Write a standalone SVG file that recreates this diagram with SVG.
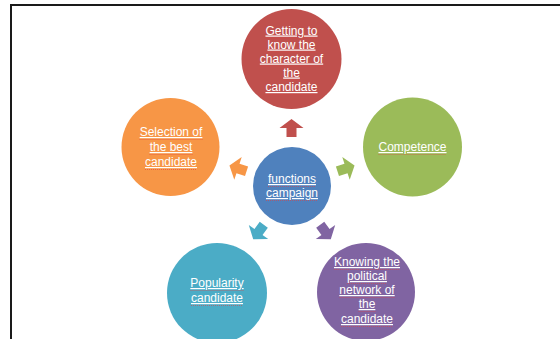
<svg xmlns="http://www.w3.org/2000/svg" width="560" height="339" viewBox="0 0 560 339">
<style>
.t{font-family:"Liberation Sans",Arial,sans-serif;font-size:12px;fill:#fff;text-anchor:middle;text-decoration:underline;}
.sq{stroke:#e04040;stroke-width:0.7;stroke-dasharray:1 1;fill:none;opacity:0.85;}
.frame{stroke:#1a1a1a;stroke-width:2;fill:none;}
</style>
<defs>
<path id="arr" d="M-9,-5 H0 V-12 L9,0 L0,12 V5 H-9 Z"/>
</defs>
<rect width="560" height="339" fill="#fff"/>
<path class="frame" d="M11,339 V5 H560"/>

<g id="connectors">
<use href="#arr" transform="translate(291.5,128) rotate(-90)" fill="#C0504D"/>
<use href="#arr" transform="translate(346,168.4) rotate(-18)" fill="#9BBB59"/>
<use href="#arr" transform="translate(325.5,232) rotate(54)" fill="#8064A2"/>
<use href="#arr" transform="translate(258.5,232) rotate(126)" fill="#4BACC6"/>
<use href="#arr" transform="translate(238,168.4) rotate(198)" fill="#F79646"/>
</g>

<g id="center">
<circle cx="292" cy="186" r="39" fill="#4F81BD"/>
<text class="t" x="292" y="183">functions</text>
<text class="t" x="292" y="197">campaign</text>
<path class="sq" d="M268,186.5h48M266,200.5h52"/>
</g>

<g id="character">
<circle cx="291.5" cy="59" r="50" fill="#C0504D"/>
<text class="t" x="291.5" y="34.5">Getting to</text>
<text class="t" x="291.5" y="48.5">know the</text>
<text class="t" x="291.5" y="62.5">character of</text>
<text class="t" x="291.5" y="76.5">the</text>
<text class="t" x="291.5" y="91">candidate</text>
<path class="sq" d="M265.5,38h52M267.5,52h48M260,66h63M283,80h17M265.5,94.5h52"/>
</g>

<g id="competence">
<circle cx="412.5" cy="147" r="49.5" fill="#9BBB59"/>
<text class="t" x="412.5" y="151">Competence</text>
<path class="sq" d="M378.5,154.5h68"/>
</g>

<g id="network">
<circle cx="366" cy="292" r="49" fill="#8064A2"/>
<text class="t" x="367" y="266">Knowing the</text>
<text class="t" x="367" y="280">political</text>
<text class="t" x="367" y="294">network of</text>
<text class="t" x="367" y="308">the</text>
<text class="t" x="367" y="323">candidate</text>
<path class="sq" d="M334,269.5h66M347,283.5h40M339.5,297.5h55M358.5,311.5h17M341,326.5h52"/>
</g>

<g id="popularity">
<circle cx="217" cy="293" r="50" fill="#4BACC6"/>
<text class="t" x="217" y="287">Popularity</text>
<text class="t" x="217" y="302">candidate</text>
<path class="sq" d="M190.5,290.5h53M191,305.5h52"/>
</g>

<g id="selection">
<circle cx="170.5" cy="147" r="49" fill="#F79646"/>
<text class="t" x="171" y="136">Selection of</text>
<text class="t" x="171" y="151">the best</text>
<text class="t" x="171" y="166">candidate</text>
<path class="sq" d="M139.5,139.5h63M149.5,154.5h43M145,169.5h52"/>
</g>
</svg>
